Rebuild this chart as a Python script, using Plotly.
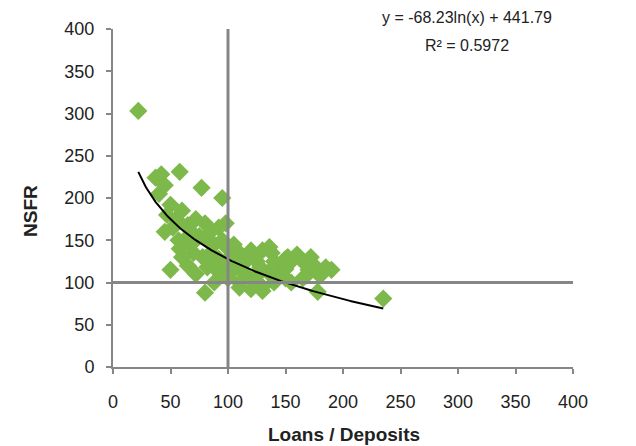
import numpy as np
import plotly.graph_objects as go

loans_deposits = [22, 37, 42, 45, 58, 77, 95, 50, 47, 55, 45, 52, 60, 65, 72, 80, 85, 92, 98,
                  62, 68, 75, 82, 88, 95, 100, 70, 78, 85, 92, 105, 110, 118, 125, 130, 138,
                  145, 150, 172, 185, 190, 178, 155, 165, 140, 130, 120, 110, 100, 95, 88,
                  80, 50, 65, 72, 105, 115, 125, 135, 150, 170, 175, 235, 60, 82, 112, 140,
                  128, 98, 120, 90, 145, 40, 57, 110, 130, 108, 122, 155, 168,
                  165, 160, 150, 136, 180, 115, 105, 85, 68, 58, 152]
nsfr = [303, 224, 228, 215, 231, 212, 200, 192, 180, 175, 160, 165, 185, 168, 175, 170, 160,
        165, 170, 150, 145, 155, 150, 145, 150, 140, 135, 130, 135, 128, 145, 135, 130, 125,
        138, 135, 120, 128, 130, 118, 115, 89, 100, 105, 100, 95, 92, 100, 105, 110, 100,
        88, 115, 120, 110, 115, 110, 108, 112, 105, 115, 120, 81, 130, 118, 120, 125, 118,
        125, 138, 115, 110, 205, 150, 94, 90, 128, 102, 125, 108,
        125, 133, 116, 142, 108, 125, 130, 125, 160, 140, 130]

x_ticks = [0, 50, 100, 150, 200, 250, 300, 350, 400]
y_ticks = [0, 50, 100, 150, 200, 250, 300, 350, 400]

trend_a, trend_b = -68.23, 441.79
trend_range = [22, 235]
ref_x, ref_y = 100, 100

tx = np.linspace(trend_range[0], trend_range[1], 200)
ty = trend_a * np.log(tx) + trend_b

axis_col = "#868686"
green = "#7DB84A"
fam = "Liberation Sans, Arial"

W, H = 636, 446
L, T, PW, PH = 105, 21, 460, 338

fig = go.Figure()
fig.add_trace(go.Scatter(x=loans_deposits, y=nsfr, mode="markers",
                         marker=dict(symbol="diamond", size=14, color=green,
                                     line=dict(width=0)),
                         showlegend=False, hoverinfo="x+y"))
fig.add_trace(go.Scatter(x=tx, y=ty, mode="lines",
                         line=dict(color="black", width=2),
                         showlegend=False, hoverinfo="skip"))

fig.add_shape(type="line", x0=ref_x, x1=ref_x, y0=0, y1=400, xref="x", yref="y",
              line=dict(color=axis_col, width=3), layer="above")
fig.add_shape(type="line", x0=0, x1=400, y0=ref_y, y1=ref_y, xref="x", yref="y",
              line=dict(color=axis_col, width=3), layer="above")

def px_x(p):
    return (p - L) / PW

def px_y(p):
    return 1 - (p - T) / PH

fig.add_annotation(x=px_x(459), y=px_y(9), xref="paper", yref="paper",
                   text="y = -68.23ln(x) + 441.79", showarrow=False,
                   xanchor="center", yanchor="middle",
                   font=dict(family=fam, size=16, color="#222"))
fig.add_annotation(x=px_x(459), y=px_y(37), xref="paper", yref="paper",
                   text="R² = 0.5972", showarrow=False,
                   xanchor="center", yanchor="middle",
                   font=dict(family=fam, size=16, color="#222"))
fig.add_annotation(x=px_x(336), y=px_y(426), xref="paper", yref="paper",
                   text="<b>Loans / Deposits</b>", showarrow=False,
                   xanchor="center", yanchor="middle",
                   font=dict(family=fam, size=19, color="#222"))
fig.add_annotation(x=px_x(22), y=px_y(203), xref="paper", yref="paper",
                   text="<b>NSFR</b>", showarrow=False, textangle=-90,
                   xanchor="center", yanchor="middle",
                   font=dict(family=fam, size=19, color="#222"))

font_ticks = dict(family=fam, size=18, color="#222")
fig.update_xaxes(range=[0, 400], tickvals=x_ticks, ticks="outside", ticklen=5,
                 tickcolor=axis_col, tickwidth=2, showline=True, linecolor=axis_col,
                 linewidth=2, showgrid=False, zeroline=False, tickfont=font_ticks,
                 ticklabelstandoff=12)
fig.update_yaxes(range=[0, 400], tickvals=y_ticks, ticks="outside", ticklen=5,
                 tickcolor=axis_col, tickwidth=2, showline=True, linecolor=axis_col,
                 linewidth=2, showgrid=False, zeroline=False, tickfont=font_ticks,
                 ticklabelstandoff=8)

fig.update_layout(width=W, height=H, margin=dict(l=L, r=W - L - PW, t=T, b=H - T - PH),
                  plot_bgcolor="white", paper_bgcolor="white")
fig.write_html("out.html")
